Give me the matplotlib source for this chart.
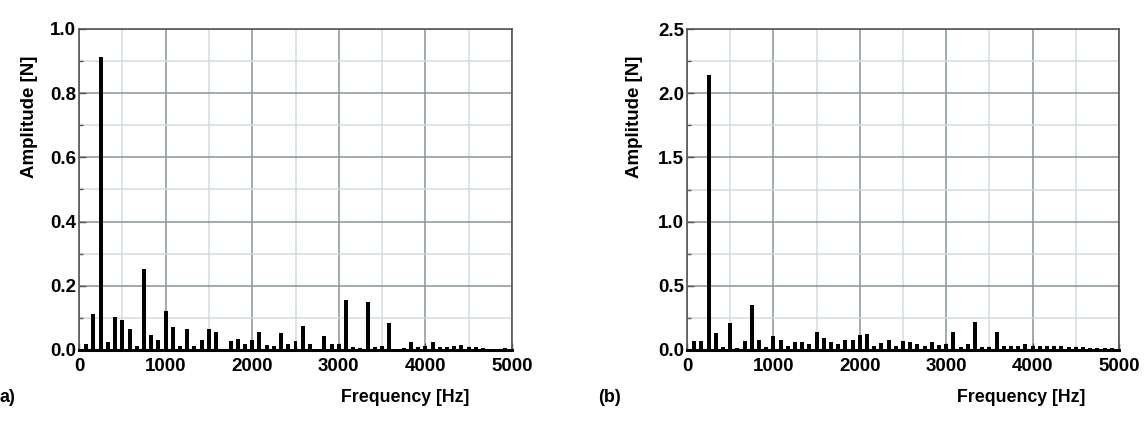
import numpy as np
import matplotlib
matplotlib.use("Agg")
import matplotlib.pyplot as plt
from matplotlib.ticker import MultipleLocator, FormatStrFormatter

plt.rcParams['font.family'] = ['Liberation Sans', 'DejaVu Sans']
plt.rcParams['font.weight'] = 'bold'

# Harmonic frequencies (Hz): multiples of 250/3 Hz
harmonic_index = list(range(1, 60))
base_freq = 250.0 / 3.0
freqs = [n * base_freq for n in harmonic_index]

amp_a = [0.019, 0.113, 0.912, 0.024, 0.102, 0.092, 0.066, 0.014, 0.253, 0.048,
         0.032, 0.123, 0.073, 0.014, 0.066, 0.014, 0.030, 0.066, 0.055, 0.003,
         0.027, 0.034, 0.019, 0.032, 0.055, 0.016, 0.014, 0.052, 0.019, 0.029,
         0.076, 0.019, 0.004, 0.043, 0.019, 0.019, 0.155, 0.008, 0.006, 0.148,
         0.010, 0.014, 0.084, 0.003, 0.006, 0.024, 0.010, 0.014, 0.024, 0.008,
         0.008, 0.011, 0.017, 0.010, 0.008, 0.006, 0.002, 0.002, 0.005]

amp_b = [0.073, 0.073, 2.143, 0.130, 0.026, 0.210, 0.013, 0.068, 0.350, 0.080,
         0.026, 0.109, 0.080, 0.031, 0.065, 0.065, 0.047, 0.138, 0.094, 0.065,
         0.047, 0.080, 0.078, 0.120, 0.125, 0.034, 0.052, 0.080, 0.034, 0.073,
         0.060, 0.050, 0.034, 0.060, 0.040, 0.044, 0.143, 0.026, 0.047, 0.216,
         0.026, 0.026, 0.143, 0.034, 0.034, 0.030, 0.044, 0.034, 0.030, 0.035,
         0.035, 0.030, 0.025, 0.020, 0.020, 0.018, 0.015, 0.015, 0.015]

fig = plt.figure(figsize=(11.47, 4.21), dpi=100)
W, H = 1147, 421

def make_ax(left_px, right_px, top_px, bottom_px):
    return fig.add_axes([left_px / W, 1 - bottom_px / H,
                         (right_px - left_px) / W, (bottom_px - top_px) / H])

ax_a = make_ax(79, 512, 29, 350)
ax_b = make_ax(687, 1119, 29, 350)

major_col = '#869696'
minor_col = '#d2dcdc'

def style(ax, ymax, ymaj, ymin, label_x):
    ax.set_xlim(0, 5000)
    ax.set_ylim(0, ymax)
    ax.xaxis.set_major_locator(MultipleLocator(1000))
    ax.xaxis.set_minor_locator(MultipleLocator(500))
    ax.yaxis.set_major_locator(MultipleLocator(ymaj))
    ax.yaxis.set_minor_locator(MultipleLocator(ymin))
    ax.yaxis.set_major_formatter(FormatStrFormatter('%.1f'))
    ax.grid(True, which='major', color=major_col, linewidth=1.1, zorder=0)
    ax.grid(True, which='minor', color=minor_col, linewidth=1.1, zorder=0)
    ax.set_axisbelow(True)
    ax.tick_params(which='both', direction='in', labelsize=13.5,
                   color='#555555')
    ax.tick_params(axis='y', pad=2)
    ax.tick_params(axis='x', pad=6)
    ax.tick_params(which='major', length=5, width=1)
    ax.tick_params(which='minor', length=3, width=1)
    for lab in ax.get_xticklabels() + ax.get_yticklabels():
        lab.set_fontweight('bold')
    for side in ['top', 'right', 'left']:
        ax.spines[side].set_color('#555555')
        ax.spines[side].set_linewidth(1.2)
    ax.spines['bottom'].set_color('black')
    ax.spines['bottom'].set_linewidth(2.2)
    ax.set_ylabel('Amplitude [N]', fontsize=13.5, fontweight='bold')
    ax.yaxis.set_label_coords(label_x, 0.727)

ax_a.bar(freqs, amp_a, width=46, color='black', zorder=3)
ax_b.bar(freqs, amp_b, width=46, color='black', zorder=3)
style(ax_a, 1.0, 0.2, 0.1, -0.095)
style(ax_b, 2.5, 0.5, 0.25, -0.102)

fig.text(405 / W, 1 - 397 / H, 'Frequency [Hz]', ha='center', va='center',
         fontsize=12.8, fontweight='bold')
fig.text(1021 / W, 1 - 397 / H, 'Frequency [Hz]', ha='center', va='center',
         fontsize=12.8, fontweight='bold')
fig.text(0 / W, 1 - 397 / H, 'a)', ha='left', va='center',
         fontsize=13, fontweight='bold')
fig.text(598 / W, 1 - 397 / H, '(b)', ha='left', va='center',
         fontsize=13, fontweight='bold')

fig.savefig('out.png', dpi=100)
